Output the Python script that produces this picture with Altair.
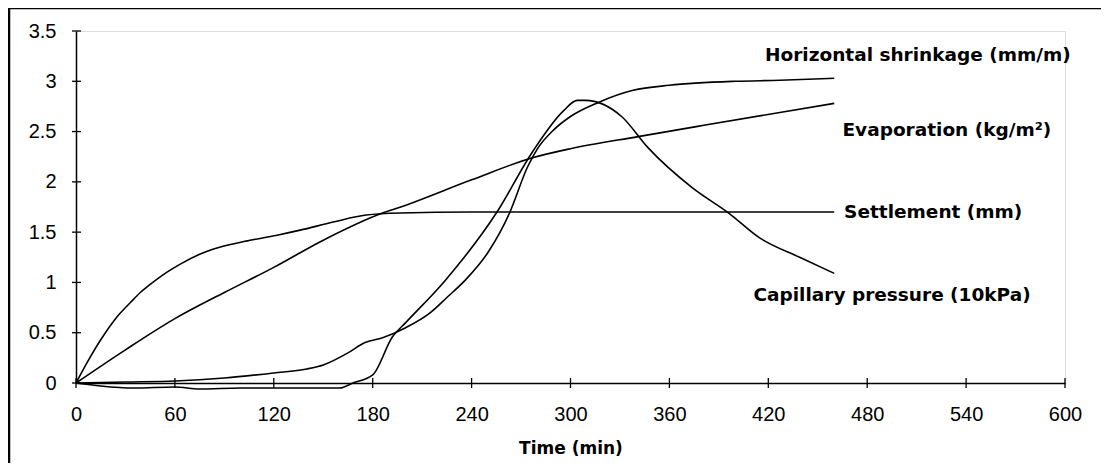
import altair as alt
import pandas as pd

# ---- data ----
time_settle = [0, 8, 15, 24, 33, 39, 45, 55, 63, 75, 83, 100, 122, 136, 156, 176, 197, 240, 300, 360, 420, 460]
settle = [0, 0.24, 0.43, 0.64, 0.80, 0.90, 0.98, 1.10, 1.18, 1.28, 1.33, 1.40, 1.47, 1.52, 1.60, 1.67, 1.69, 1.70, 1.70, 1.70, 1.70, 1.70]

time_evap = [0, 30, 60, 90, 120, 150, 186, 197, 240, 277, 300, 341, 380, 427, 460]
evap = [0, 0.33, 0.64, 0.90, 1.15, 1.42, 1.69, 1.75, 2.02, 2.24, 2.33, 2.45, 2.56, 2.69, 2.78]

time_shrink = [0, 30, 60, 90, 120, 140, 150, 165, 175, 186, 200, 215, 225, 236, 250, 263, 274, 280, 290, 300, 317, 338, 360, 400, 427, 460]
shrink = [0, 0.01, 0.02, 0.05, 0.10, 0.14, 0.18, 0.30, 0.40, 0.45, 0.55, 0.70, 0.85, 1.02, 1.30, 1.69, 2.15, 2.33, 2.52, 2.65, 2.79, 2.91, 2.96, 3.00, 3.01, 3.03]

time_cap = [0, 15, 35, 60, 75, 100, 130, 160, 168, 180, 192, 200, 224, 255, 277, 296, 304, 309, 331, 347, 374, 396, 415, 439, 460]
cap = [0, -0.03, -0.05, -0.04, -0.06, -0.05, -0.05, -0.05, 0.0, 0.08, 0.46, 0.60, 1.02, 1.69, 2.30, 2.71, 2.81, 2.81, 2.65, 2.34, 1.94, 1.69, 1.44, 1.25, 1.09]

series_names = ["Settlement", "Evaporation", "Horizontal shrinkage", "Capillary pressure"]

label_texts = ["Horizontal shrinkage (mm/m)", "Evaporation (kg/m\u00b2)", "Settlement (mm)", "Capillary pressure (10kPa)"]
label_t = [418, 465, 466, 411]
label_v = [3.26, 2.52, 1.70, 0.875]

x_ticks = [0, 60, 120, 180, 240, 300, 360, 420, 480, 540, 600]
y_ticks = [0, 0.5, 1, 1.5, 2, 2.5, 3, 3.5]

# ---- build tables ----
rows = []
for name, ts, vs in zip(series_names,
                        [time_settle, time_evap, time_shrink, time_cap],
                        [settle, evap, shrink, cap]):
    for t, v in zip(ts, vs):
        rows.append({"series": name, "t": t, "v": v})
df = pd.DataFrame(rows)
labels_df = pd.DataFrame({"text": label_texts, "t": label_t, "v": label_v})
xt_df = pd.DataFrame({"t": x_ticks})
yt_df = pd.DataFrame({"v": y_ticks})
one = pd.DataFrame({"a": [0]})

W, H = 989, 352
xs = alt.Scale(domain=[0, 600], nice=False, zero=False)
ys = alt.Scale(domain=[0, 3.5], nice=False)

lines = alt.Chart(df).mark_line(color="black", strokeWidth=1.6, interpolate="monotone").encode(
    x=alt.X("t:Q", scale=xs, axis=alt.Axis(
        values=x_ticks, title="Time (min)", grid=False, ticks=False, tickSize=0,
        domainColor="black", domainWidth=1.5,
        labelFont="Liberation Sans", labelFontSize=20, labelColor="black",
        labelPadding=21, labelFlush=False, labelOverlap=False,
        titleFont="DejaVu Sans", titleFontSize=17, titleFontWeight="bold",
        titleColor="black", titlePadding=16)),
    y=alt.Y("v:Q", scale=ys, axis=alt.Axis(
        values=y_ticks, title=None, grid=False, ticks=False, tickSize=0,
        domainColor="black", domainWidth=1.5,
        labelExpr="datum.value + ''",
        labelFont="Liberation Sans", labelFontSize=20, labelColor="black",
        labelPadding=20, labelFlush=False, labelOverlap=False)),
    detail="series:N",
)

xticks_layer = alt.Chart(xt_df).mark_rule(color="black", strokeWidth=1.3).encode(
    x=alt.X("t:Q", scale=xs),
    y=alt.value(H - 5), y2=alt.value(H + 5),
)
yticks_layer = alt.Chart(yt_df).mark_rule(color="black", strokeWidth=1.3).encode(
    y=alt.Y("v:Q", scale=ys),
    x=alt.value(-4), x2=alt.value(5),
)

labels = alt.Chart(labels_df).mark_text(
    align="left", baseline="middle", font="DejaVu Sans", fontSize=18.5,
    fontWeight="bold", color="black"
).encode(
    x=alt.X("t:Q", scale=xs),
    y=alt.Y("v:Q", scale=ys),
    text="text:N",
)

frame_left = alt.Chart(one).mark_rule(color="black", strokeWidth=2.5).encode(
    x=alt.value(-67), y=alt.value(-24), y2=alt.value(H + 90)
)
frame_top = alt.Chart(one).mark_rule(color="black", strokeWidth=2.5).encode(
    y=alt.value(-23), x=alt.value(-68), x2=alt.value(W + 40)
)

chart = alt.layer(lines, xticks_layer, yticks_layer, labels, frame_left, frame_top).properties(
    width=W, height=H,
    autosize=alt.AutoSizeParams(type="none"),
    padding={"left": 68, "top": 23, "right": 36, "bottom": 80},
).configure_view(stroke=None).configure(background="white")

chart.save("out.html", embed_options={"renderer": "svg", "actions": False})
